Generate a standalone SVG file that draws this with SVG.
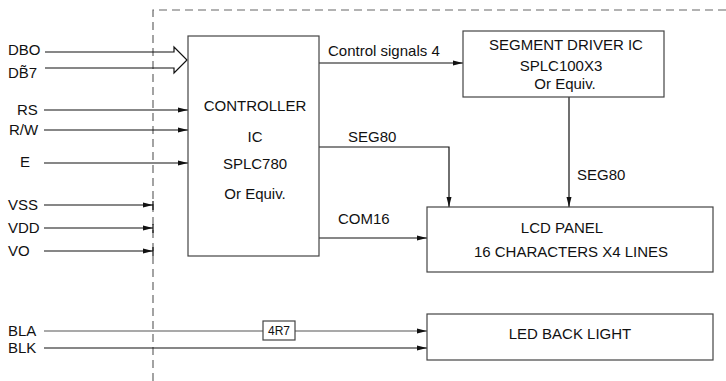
<svg xmlns="http://www.w3.org/2000/svg" width="726" height="381" viewBox="0 0 726 381">
<defs>
<style>
text{font-family:"Liberation Sans",Arial,sans-serif;font-size:15px;fill:#111}
.small{font-size:12px}
.box{fill:#fff;stroke:#444;stroke-width:1.2}
.wire{fill:none;stroke:#111;stroke-width:1.2}
.dash{fill:none;stroke:#666;stroke-width:1.2;stroke-dasharray:8 5}
.mid{text-anchor:middle}
</style>
<marker id="ah" viewBox="0 0 10 6" refX="10" refY="3" markerWidth="10" markerHeight="6" markerUnits="userSpaceOnUse" orient="auto">
<path d="M0,0.5 L10,3 L0,5.5 Z" fill="#111"/>
</marker>
</defs>
<rect width="726" height="381" fill="#fff"/>
<path class="dash" d="M153,381 L153,10 L726,10"/>
<g id="connectors">
<path class="wire" d="M45,52 L174,52 L174,47 L187,60 L174,73 L174,68 L45,68"/>
<path class="wire" d="M44,110 L188,110" marker-end="url(#ah)"/>
<path class="wire" d="M44,130 L188,130" marker-end="url(#ah)"/>
<path class="wire" d="M44,163 L188,163" marker-end="url(#ah)"/>
<path class="wire" d="M44,205 L153,205" marker-end="url(#ah)"/>
<path class="wire" d="M44,228 L153,228" marker-end="url(#ah)"/>
<path class="wire" d="M44,251 L153,251" marker-end="url(#ah)"/>
<path class="wire" d="M153,201 L153,210 M153,224 L153,233 M153,247 L153,256"/>
<path class="wire" d="M319,63 L463,63" marker-end="url(#ah)"/>
<path class="wire" d="M319,147 L449,147 L449,207" marker-end="url(#ah)"/>
<path class="wire" d="M569,97 L569,207" marker-end="url(#ah)"/>
<path class="wire" d="M319,238 L427,238" marker-end="url(#ah)"/>
<path class="wire" style="stroke:#555" d="M44,331 L263,331 M295,331 L427,331" marker-end="url(#ah)"/>
<path class="wire" d="M44,348 L427,348" marker-end="url(#ah)"/>
<text x="328" y="56">Control signals 4</text>
<text x="348" y="142">SEG80</text>
<text x="577" y="180">SEG80</text>
<text x="338" y="224">COM16</text>
</g>
<g id="inputs">
<text x="8" y="55">DBO</text>
<text x="8" y="78">DB̃7</text>
<text x="17" y="115">RS</text>
<text x="9" y="135">R/W</text>
<text x="20" y="167">E</text>
<text x="8" y="210">VSS</text>
<text x="8" y="233">VDD</text>
<text x="8" y="256">VO</text>
<text x="8" y="336">BLA</text>
<text x="8" y="353">BLK</text>
</g>
<g id="controller">
<rect class="box" x="188" y="36" width="131" height="220"/>
<text class="mid" x="255" y="111">CONTROLLER</text>
<text class="mid" x="255" y="142">IC</text>
<text class="mid" x="255" y="169">SPLC780</text>
<text class="mid" x="255" y="199">Or Equiv.</text>
</g>
<g id="segment-driver">
<rect class="box" x="463" y="31" width="201" height="66"/>
<text class="mid" x="566" y="50">SEGMENT DRIVER IC</text>
<text class="mid" x="561" y="71">SPLC100X3</text>
<text class="mid" x="565" y="89">Or Equiv.</text>
</g>
<g id="lcd-panel">
<rect class="box" x="427" y="207" width="286" height="65"/>
<text class="mid" x="562" y="233">LCD PANEL</text>
<text class="mid" x="571" y="257">16 CHARACTERS X4 LINES</text>
</g>
<g id="backlight">
<rect class="box" x="427" y="314" width="286" height="46"/>
<text class="mid" x="570" y="339">LED BACK LIGHT</text>
</g>
<g id="resistor">
<rect class="box" x="263" y="321" width="32" height="19"/>
<text class="mid small" x="279" y="335">4R7</text>
</g>
</svg>
